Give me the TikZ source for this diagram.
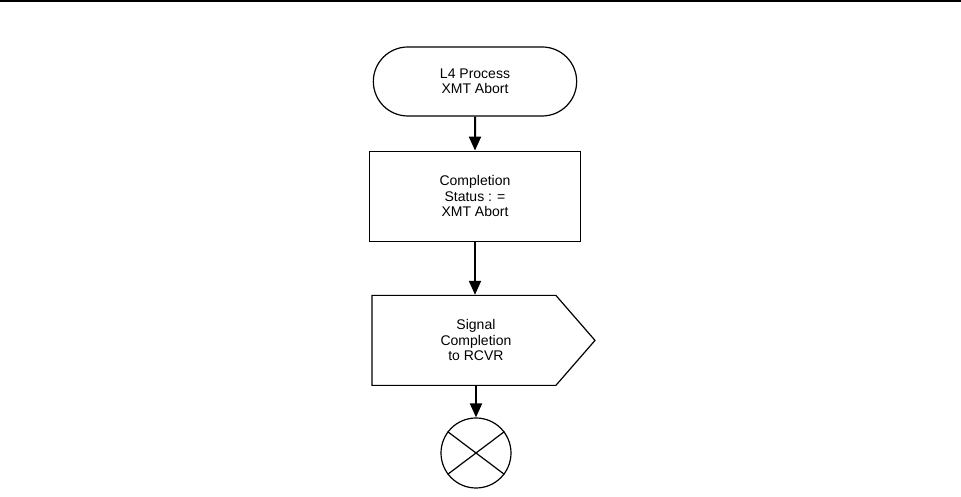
\documentclass[tikz,border=0pt]{standalone}
\usepackage{fontspec}
\setmainfont{Liberation Sans}
\usetikzlibrary{positioning,shapes.misc,shapes.symbols,arrows.meta}

\begin{document}
\begin{tikzpicture}[x=1pt,y=1pt,
  every node/.style={font=\fontsize{14}{15.5}\selectfont},
  termnode/.style={rounded rectangle,draw,line width=1.2pt,minimum width=210pt,minimum height=69pt,align=center},
  procnode/.style={rectangle,draw,line width=1.2pt,minimum width=211pt,minimum height=90pt,align=center},
  signode/.style={signal,signal to=east,signal pointer angle=98,draw,line width=1.2pt,minimum width=223pt,minimum height=90pt},
  endnode/.style={circle,draw,line width=1.2pt,minimum size=70pt,inner sep=0pt},
  txtnode/.style={align=center},
  flow/.style={line width=2pt,-{Triangle[length=14pt,width=12pt]}}
]
\useasboundingbox (0,0) rectangle (961,497);
% the rule across the top
\draw[line width=2pt] (0,496) -- (961,496);

% the steps
\node[termnode] (start) at (475,415.5) {L4 Process\\XMT Abort};
\node[procnode,below=34pt of start] (status) {Completion\\Status : =\\XMT Abort};
\node[signode,below=53pt of status.south west,anchor=north west,xshift=2.5pt] (sig) {};
\node[txtnode] (sigtext) at ([xshift=12pt]sig.center) {Signal\\Completion\\to RCVR};
\node[endnode] (done) at (476,44) {};
\draw[line width=1.2pt] (done.143) -- (done.-37) (done.37) -- (done.-143);

% the edges
\draw[flow] (start) -- (status);
\draw[flow] (status) -- (status |- sig.north);
\draw[flow] (done |- sig.south) -- (done);
\end{tikzpicture}
\end{document}
